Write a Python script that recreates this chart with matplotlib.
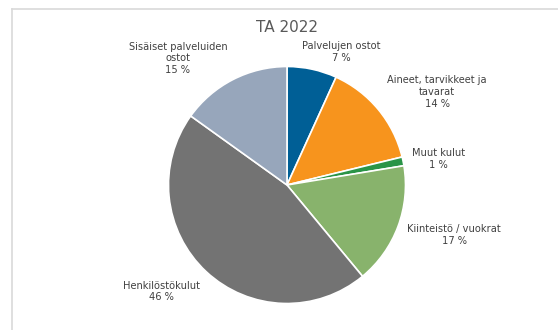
import matplotlib
matplotlib.use("Agg")
import matplotlib.pyplot as plt
from matplotlib.lines import Line2D

categories = ["Palvelujen ostot", "Aineet, tarvikkeet ja\ntavarat", "Muut kulut",
              "Kiinteistö / vuokrat", "Henkilöstökulut", "Sisäiset palveluiden\nostot"]
values = [6.8, 14.4, 1.2, 16.6, 45.9, 15.1]
colors = ["#005F96", "#F7941D", "#2A9447", "#88B36C", "#737373", "#97A6BB"]
title = "TA 2022"

# label block centres (in pie-radius units)
label_pos = [(0.456, 1.12), (1.266, 0.785), (1.28, 0.22), (1.41, -0.42),
             (-1.063, -0.90), (-0.92, 1.07)]

W, H = 558, 330
fig = plt.figure(figsize=(W / 100, H / 100), dpi=100)
ax = fig.add_axes([0, 0, 1, 1])

cx, cy, r = 287, 185, 118.5
ax.pie(values, colors=colors, startangle=90, counterclock=False,
       wedgeprops=dict(edgecolor="white", linewidth=1.2))
ax.set_aspect("auto")
ax.set_xlim(-cx / r, (W - cx) / r)
ax.set_ylim(-(H - cy) / r, cy / r)
ax.axis("off")

total = sum(values)
for cat, v, (x, y) in zip(categories, values, label_pos):
    ax.text(x, y, f"{cat}\n{round(v / total * 100):.0f} %", ha="center", va="center",
            fontsize=7.1, color="#404040", linespacing=1.2, family="DejaVu Sans")

fig.text(cx / W, 1 - 28 / H, title, ha="center", va="center", fontsize=11,
         color="#595959", family="DejaVu Sans")

fig.add_artist(Line2D([12 / W, 12 / W], [0, 1 - 9 / H], transform=fig.transFigure,
                      color="#d9d9d9", linewidth=1.2))
fig.add_artist(Line2D([12 / W, 1.01], [1 - 9 / H, 1 - 9 / H], transform=fig.transFigure,
                      color="#d9d9d9", linewidth=1.2))

fig.savefig("out.png", dpi=100)
